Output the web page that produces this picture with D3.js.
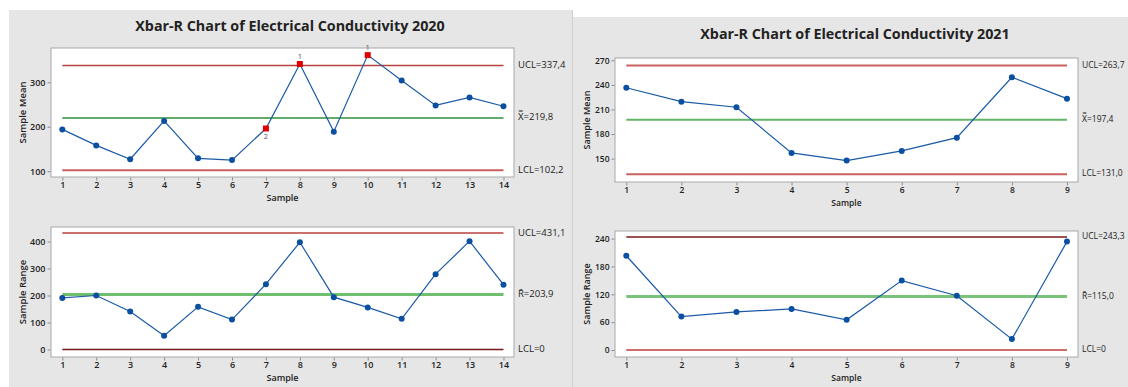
<!DOCTYPE html>
<html>
<head>
<meta charset="utf-8">
<script src="https://cdn.jsdelivr.net/npm/d3@7"></script>
<style>
  html, body { margin: 0; padding: 0; background: #ffffff; }
  svg { display: block; }
  text { font-family: "Open Sans", "Noto Sans", "DejaVu Sans", sans-serif; }
</style>
</head>
<body>
<svg id="chart" width="1128" height="387"></svg>
<script>
// ---------------- DATA ----------------
const samples2020 = [1, 2, 3, 4, 5, 6, 7, 8, 9, 10, 11, 12, 13, 14];
const mean2020 = [194, 158, 127, 213, 129, 125, 196, 341, 189, 361, 304, 248, 266, 246];
const range2020 = [191, 200, 141, 51, 158, 111, 242, 397, 194, 156, 114, 279, 401, 240];
const meanLimitValues2020 = [337.4, 219.8, 102.2];
const meanLimitLabels2020 = ["UCL=337,4", "X\u033F=219,8", "LCL=102,2"];
const rangeLimitValues2020 = [431.1, 203.9, 0];
const rangeLimitLabels2020 = ["UCL=431,1", "R\u0304=203,9", "LCL=0"];
const meanTicks2020 = [100, 200, 300];
const rangeTicks2020 = [0, 100, 200, 300, 400];
const flagSamples2020 = [7, 8, 10];
const flagLabels2020 = ["2", "1", "1"];

const samples2021 = [1, 2, 3, 4, 5, 6, 7, 8, 9];
const mean2021 = [236.5, 219.5, 212.7, 157, 147.6, 159.4, 175.6, 249.3, 223.2];
const range2021 = [203, 72, 82, 88.5, 65, 149.5, 117, 23.5, 233.5];
const meanLimitValues2021 = [263.7, 197.4, 131.0];
const meanLimitLabels2021 = ["UCL=263,7", "X\u033F=197,4", "LCL=131,0"];
const rangeLimitValues2021 = [243.3, 115.0, 0];
const rangeLimitLabels2021 = ["UCL=243,3", "R\u0304=115,0", "LCL=0"];
const meanTicks2021 = [150, 180, 210, 240, 270];
const rangeTicks2021 = [0, 60, 120, 180, 240];

const titles = ["Xbar-R Chart of Electrical Conductivity 2020", "Xbar-R Chart of Electrical Conductivity 2021"];
const yTitles = ["Sample Mean", "Sample Range"];
const xTitle = "Sample";

// ---------------- DRAW ----------------
const svg = d3.select("#chart");
const BLUE = "#1a5aa6";
const DOT = "#0b4fa0";

// panel backgrounds
svg.append("rect").attr("x", 9).attr("y", 10).attr("width", 563).attr("height", 377).attr("fill", "#e6e6e6");
svg.append("rect").attr("x", 573).attr("y", 17).attr("width", 555).attr("height", 370).attr("fill", "#e6e6e6");
svg.append("line").attr("x1", 572.5).attr("x2", 572.5).attr("y1", 10).attr("y2", 387).attr("stroke", "#d0d0d0");

svg.append("text").attr("x", 290).attr("y", 31).attr("text-anchor", "middle")
  .attr("font-size", 14.3).attr("font-weight", 700).attr("fill", "#222").text(titles[0]);
svg.append("text").attr("x", 855).attr("y", 39).attr("text-anchor", "middle")
  .attr("font-size", 14.3).attr("font-weight", 700).attr("fill", "#222").text(titles[1]);

function drawPlot(cfg) {
  const g = svg.append("g");
  const x = d3.scaleLinear().domain(cfg.xDomain).range([cfg.left, cfg.right]);
  const y = d3.scaleLinear().domain(cfg.yDomain).range([cfg.bottom, cfg.top]);

  g.append("rect").attr("x", cfg.left).attr("y", cfg.top)
    .attr("width", cfg.right - cfg.left).attr("height", cfg.bottom - cfg.top)
    .attr("fill", "#ffffff").attr("stroke", "#a8a8a8").attr("stroke-width", 1);

  // axes
  const yAxis = d3.axisLeft(y).tickValues(cfg.yTicks).tickSize(3).tickPadding(2).tickFormat(d3.format("d"));
  const ya = g.append("g").attr("transform", `translate(${cfg.left - 0.5},0)`).call(yAxis);
  const xAxis = d3.axisBottom(x).tickValues(cfg.samples).tickSize(3).tickPadding(1.5).tickFormat(d3.format("d"));
  const xa = g.append("g").attr("transform", `translate(0,${cfg.bottom + 0.5})`).call(xAxis);
  [ya, xa].forEach(a => {
    a.select(".domain").remove();
    a.selectAll(".tick line").attr("stroke", "#8a8a8a");
    a.selectAll(".tick text").attr("fill", "#222").attr("font-size", cfg.fs).attr("font-weight", 600)
      .style("font-family", '"Open Sans", sans-serif');
  });

  // axis titles
  g.append("text").attr("transform", `translate(${cfg.yTitleX},${(cfg.top + cfg.bottom) / 2}) rotate(-90)`)
    .attr("text-anchor", "middle").attr("dominant-baseline", "middle")
    .attr("font-size", cfg.fs + 0.5).attr("font-weight", 600).attr("fill", "#222").text(cfg.yTitle);
  g.append("text").attr("x", (cfg.left + cfg.right) / 2).attr("y", cfg.xTitleY)
    .attr("text-anchor", "middle").attr("dominant-baseline", "middle")
    .attr("font-size", cfg.fs).attr("font-weight", 600).attr("fill", "#222").text(xTitle);

  // control lines
  const x0 = x(cfg.samples[0]), x1 = x(cfg.samples[cfg.samples.length - 1]);
  cfg.limitValues.forEach((v, i) => {
    g.append("line").attr("x1", x0).attr("x2", x1).attr("y1", y(v)).attr("y2", y(v))
      .attr("stroke", cfg.lineColors[i]).attr("stroke-width", cfg.lineWidths[i]);
    g.append("text").attr("x", cfg.right + 4).attr("y", y(v)).attr("dominant-baseline", "middle")
      .attr("font-size", cfg.labelFs).attr("fill", "#222").text(cfg.limitLabels[i]);
  });

  // series
  const line = d3.line().x((d, i) => x(cfg.samples[i])).y(d => y(d));
  g.append("path").datum(cfg.values).attr("d", line).attr("fill", "none")
    .attr("stroke", BLUE).attr("stroke-width", 1.2);
  const flags = cfg.flagSamples || [];
  g.selectAll("circle.pt").data(cfg.values.map((v, i) => ({ s: cfg.samples[i], v })).filter(d => !flags.includes(d.s)))
    .enter().append("circle").attr("cx", d => x(d.s)).attr("cy", d => y(d.v)).attr("r", 3).attr("fill", DOT);
  flags.forEach((s, i) => {
    const v = cfg.values[cfg.samples.indexOf(s)];
    g.append("rect").attr("x", x(s) - 3).attr("y", y(v) - 3).attr("width", 6).attr("height", 6).attr("fill", "#e00000");
    const above = v > cfg.limitValues[1];
    g.append("text").attr("x", x(s)).attr("y", above ? y(v) - 7 : y(v) + 8)
      .attr("text-anchor", "middle").attr("dominant-baseline", "middle")
      .attr("font-size", 7.5).attr("fill", "#555").text(cfg.flagLabels[i]);
  });
}

const RED = "#b8403f", DARKRED = "#7a1717", PINK = "#c86060";

drawPlot({ samples: samples2020, values: mean2020, xDomain: [0.667, 14.31], yDomain: [87, 377],
  left: 51, right: 514, top: 48, bottom: 177, yTicks: meanTicks2020, fs: 9, labelFs: 9.5,
  yTitle: yTitles[0], yTitleX: 23, xTitleY: 199,
  limitValues: meanLimitValues2020, limitLabels: meanLimitLabels2020,
  lineColors: [RED, "#2f8f3a", PINK], lineWidths: [1.5, 1.5, 2],
  flagSamples: flagSamples2020, flagLabels: flagLabels2020 });

drawPlot({ samples: samples2020, values: range2020, xDomain: [0.667, 14.31], yDomain: [-27.5, 453.5],
  left: 51, right: 514, top: 227, bottom: 357, yTicks: rangeTicks2020, fs: 9, labelFs: 9.5,
  yTitle: yTitles[1], yTitleX: 23, xTitleY: 379,
  limitValues: rangeLimitValues2020, limitLabels: rangeLimitLabels2020,
  lineColors: [RED, "#6fbf6f", DARKRED], lineWidths: [1.5, 3, 1.5] });

drawPlot({ samples: samples2021, values: mean2021, xDomain: [0.795, 9.2], yDomain: [121.5, 272.8],
  left: 615, right: 1078, top: 58, bottom: 182, yTicks: meanTicks2021, fs: 8.5, labelFs: 8.5,
  yTitle: yTitles[0], yTitleX: 588, xTitleY: 204,
  limitValues: meanLimitValues2021, limitLabels: meanLimitLabels2021,
  lineColors: [PINK, "#62b565", PINK], lineWidths: [2, 2, 2] });

drawPlot({ samples: samples2021, values: range2021, xDomain: [0.795, 9.2], yDomain: [-15, 256.3],
  left: 615, right: 1078, top: 231, bottom: 357, yTicks: rangeTicks2021, fs: 8.5, labelFs: 8.5,
  yTitle: yTitles[1], yTitleX: 588, xTitleY: 379,
  limitValues: rangeLimitValues2021, limitLabels: rangeLimitLabels2021,
  lineColors: [DARKRED, "#78c27a", "#c23b3b"], lineWidths: [1.5, 3, 1.5] });
</script>
</body>
</html>
